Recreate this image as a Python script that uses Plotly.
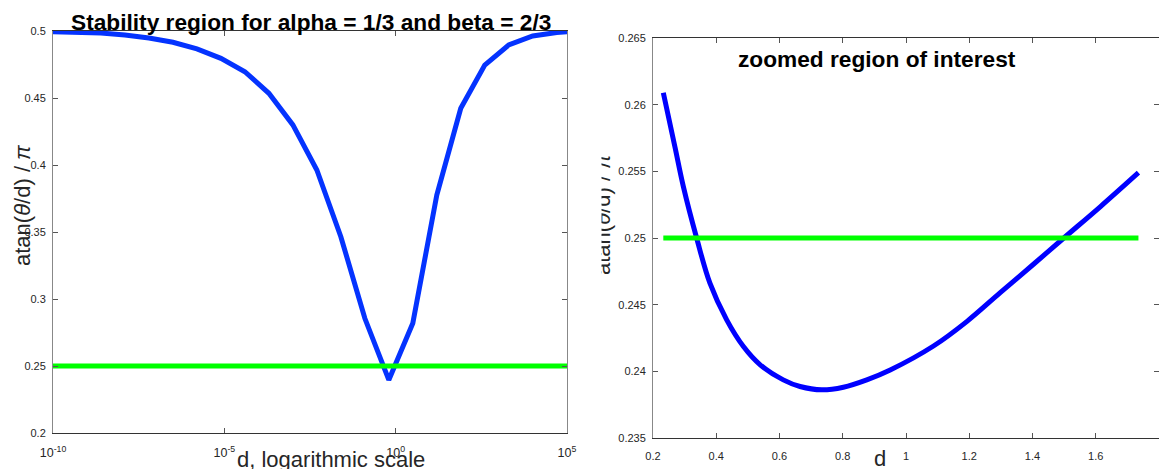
import plotly.graph_objects as go

W, H = 1159, 469

# ---------------- data ----------------
# left panel: log10(d) sample points and atan(theta/d)/pi
log_d_full = [-10.0, -9.3, -8.6, -7.9, -7.2, -6.5, -5.8, -5.1, -4.4, -3.7, -3.0,
              -2.3, -1.6, -0.9, -0.2, 0.5, 1.2, 1.9, 2.6, 3.3, 4.0, 4.7, 5.0]
ratio_full = [0.4995, 0.4993, 0.4985, 0.4970, 0.4948, 0.4916, 0.4866, 0.4796,
              0.4696, 0.4535, 0.4299, 0.3963, 0.3465, 0.2856, 0.2396, 0.2819,
              0.3776, 0.4423, 0.4746, 0.4896, 0.4963, 0.4989, 0.4995]
d_full = [10 ** v for v in log_d_full]
threshold = 0.25
left_limits_d = [1e-10, 1e5]

# right panel: zoomed region
d_zoom = [0.2326, 0.2696, 0.296, 0.338, 0.380, 0.433, 0.486, 0.539, 0.612, 0.665,
          0.734, 0.802, 0.876, 0.950, 1.087, 1.193, 1.298, 1.404, 1.499,
          1.615, 1.735]
ratio_zoom = [0.2609, 0.2568, 0.25385, 0.2500, 0.24661, 0.24386, 0.24186, 0.24049,
              0.23936, 0.23886, 0.23861, 0.23881, 0.23936, 0.24010,
              0.24190, 0.24375, 0.24590, 0.24805, 0.2500, 0.25236, 0.2549]

left_xtick_vals = [1e-10, 1e-5, 1, 1e5]
left_xtick_text = ["10<sup>-10</sup>", "10<sup>-5</sup>", "10<sup>0</sup>", "10<sup>5</sup>"]
left_ytick_vals = [0.2, 0.25, 0.3, 0.35, 0.4, 0.45, 0.5]
left_ytick_text = ["0.2", "0.25", "0.3", "0.35", "0.4", "0.45", "0.5"]
right_xtick_vals = [0.2, 0.4, 0.6, 0.8, 1.0, 1.2, 1.4, 1.6, 1.8]
right_xtick_text = ["0.2", "0.4", "0.6", "0.8", "1", "1.2", "1.4", "1.6", "1.8"]
right_ytick_vals = [0.235, 0.24, 0.245, 0.25, 0.255, 0.26, 0.265]
right_ytick_text = ["0.235", "0.24", "0.245", "0.25", "0.255", "0.26", "0.265"]

# ---------------- figure ----------------
def px_x(p):
    return p / W

def px_y(p):
    return 1 - p / H

fig = go.Figure()
fig.add_trace(go.Scatter(x=d_full, y=ratio_full, mode="lines",
                         line=dict(color="#0433FF", width=5), xaxis="x", yaxis="y",
                         showlegend=False))
fig.add_trace(go.Scatter(x=left_limits_d, y=[threshold, threshold], mode="lines",
                         line=dict(color="#00FF00", width=5), xaxis="x", yaxis="y",
                         showlegend=False))
fig.add_trace(go.Scatter(x=d_zoom, y=ratio_zoom, mode="lines",
                         line=dict(color="#0000FF", width=5, shape="spline"),
                         xaxis="x2", yaxis="y2", showlegend=False))
fig.add_trace(go.Scatter(x=[d_zoom[0], d_zoom[-1]], y=[threshold, threshold], mode="lines",
                         line=dict(color="#00FF00", width=5), xaxis="x2", yaxis="y2",
                         showlegend=False))

tickfont = dict(family="Liberation Sans, Arial, sans-serif", size=11, color="#262626")
common = dict(showgrid=False, zeroline=False, showline=True, mirror="ticks",
              ticks="inside", ticklen=5, tickcolor="#555555",
              automargin=False)

fig.update_layout(
    width=W, height=H, autosize=False,
    margin=dict(l=0, r=0, t=0, b=0, pad=0),
    paper_bgcolor="white", plot_bgcolor="white",
    xaxis=dict(domain=[px_x(53), px_x(567)], type="log", range=[-10, 5],
               tickvals=left_xtick_vals, ticktext=left_xtick_text,
               tickfont=dict(tickfont, size=12.5),
               linecolor="#333333", ticklabelstandoff=8, anchor="y", **common),
    yaxis=dict(domain=[px_y(433), px_y(31)], range=[0.2, 0.5],
               tickvals=left_ytick_vals, ticktext=left_ytick_text, tickfont=tickfont,
               linecolor="#888888", ticklabelstandoff=4, anchor="x", **common),
    xaxis2=dict(domain=[px_x(653), 1.0], range=[0.2, 1.8],
                tickvals=right_xtick_vals, ticktext=right_xtick_text, tickfont=tickfont,
                linecolor="#333333", ticklabelstandoff=8, anchor="y2", **common),
    yaxis2=dict(domain=[px_y(438), px_y(38)], range=[0.235, 0.265],
                tickvals=right_ytick_vals, ticktext=right_ytick_text, tickfont=tickfont,
                linecolor="#888888", ticklabelstandoff=4, anchor="x2", **common),
)

labfont = dict(family="Liberation Sans, Arial, sans-serif", size=22, color="#262626")
titfont = dict(family="Liberation Sans, Arial, sans-serif", size=22.7, color="black")
ylabel = "atan(<i>θ</i>/d) / <i>π</i>"

def ann(text, x, y, font, angle=0, **kw):
    fig.add_annotation(text=text, x=px_x(x), y=px_y(y), xref="paper", yref="paper",
                       xanchor="center", yanchor="middle", showarrow=False,
                       font=font, textangle=angle, **kw)

ann("<b>Stability region for alpha = 1/3 and beta = 2/3</b>", 311, 22, titfont)
ann("<b>zoomed region of interest</b>", 877, 59, titfont)
ann("d, logarithmic scale", 331, 459, labfont)
ann("d", 880, 458, labfont)
ann(ylabel, 22, 205, labfont, angle=-90)
ann(ylabel, 603, 214, labfont, angle=-90)
# the right-hand label is clipped on its left side in the original
fig.add_annotation(text="&nbsp;", x=px_x(590), y=px_y(214), xref="paper", yref="paper",
                   xanchor="center", yanchor="middle", showarrow=False,
                   width=22, height=170, bgcolor="white", borderpad=0,
                   font=dict(size=4))

fig.write_html("out.html")
